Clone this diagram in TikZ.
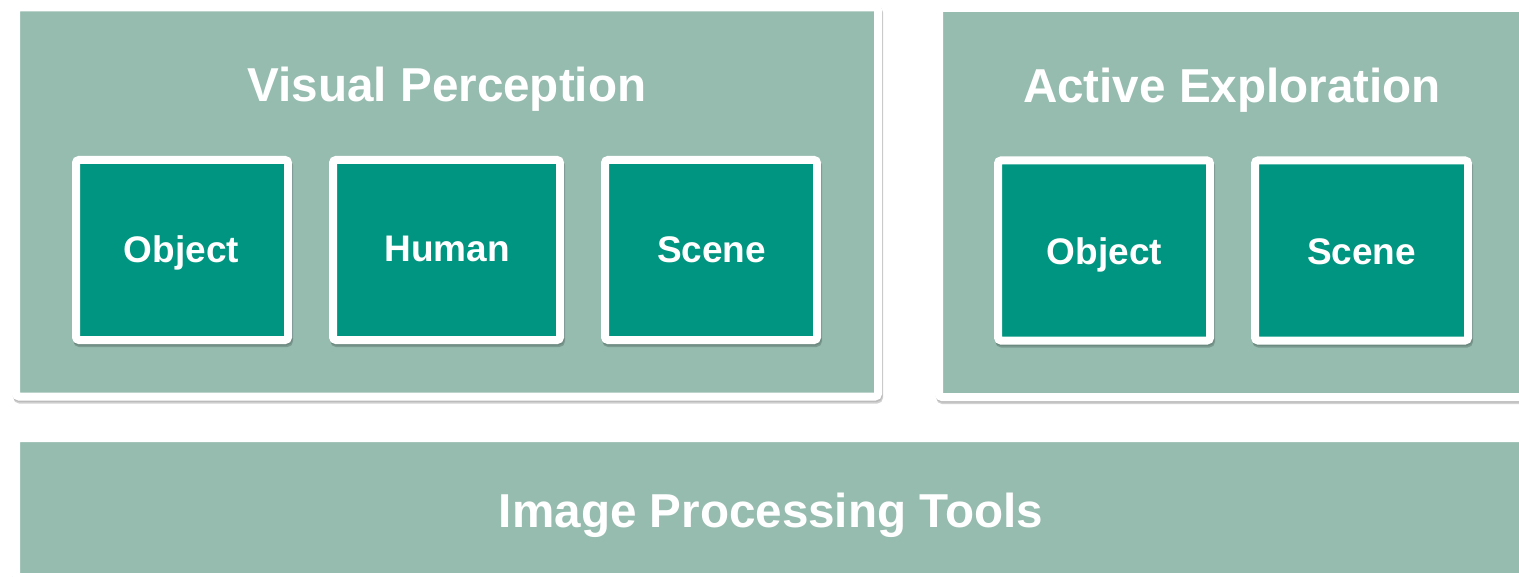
\documentclass[tikz,border=0pt]{standalone}
\usepackage{fontspec}
\setmainfont{Liberation Sans}
\definecolor{sage}{HTML}{96BCB0}
\definecolor{tealbox}{HTML}{009580}
\begin{document}
\begin{tikzpicture}[x=0.5pt,y=-0.5pt,
  shade1/.style={preaction={draw=black,fill=black,opacity=0.18,transform canvas={shift={(0.6pt,-1.6pt)}}}},
  shade2/.style={preaction={draw=black,fill=black,opacity=0.10,transform canvas={shift={(0.3pt,-0.8pt)}}}},
  frame/.style={draw=white,line width=4pt,fill=sage,rounded corners=1.5pt,inner sep=0pt,outer sep=0pt,shade1,shade2},
  subbox/.style={draw=white,line width=4pt,fill=tealbox,rounded corners=1.5pt,inner sep=0pt,outer sep=0pt,
    minimum height=90pt,shade1,shade2},
  sublabel/.style={text=white,font=\fontsize{18.5}{22}\selectfont\bfseries,inner sep=0pt,anchor=base},
  title/.style={text=white,font=\fontsize{23.8}{28}\selectfont\bfseries,inner sep=0pt,anchor=base}]
\useasboundingbox (0,0) rectangle (1519,577);
\fill[white] (0,0) rectangle (1519,577);
\begin{scope}
\clip (0,0) rectangle (1519,577);
% big frames
\node[frame,minimum width=431pt,minimum height=194.5pt] (vp) at (447,202) {};
\node[frame,minimum width=293.5pt,minimum height=194.5pt] (ae) at (1232.5,202.5) {};
\node[frame,minimum width=755pt,minimum height=69.5pt] (ipt) at (771,507.5) {};
% titles
\node[title] (vpt) at (447,102) {Visual Perception};
\node[title] (aet) at (1232,103) {Active Exploration};
\node[title] (iptt) at (771,527) {Image Processing Tools};
% sub boxes
\node[subbox,minimum width=106pt] (vpo) at (182,250) {};
\node[subbox,minimum width=113.5pt] (vph) at (446.5,250) {};
\node[subbox,minimum width=106pt] (vps) at (711,250) {};
\node[subbox,minimum width=106pt] (aeo) at (1104,250.5) {};
\node[subbox,minimum width=106.5pt] (aes) at (1361.5,250.5) {};
% sub labels
\node[sublabel] (vpol) at (181.5,263) {Object};
\node[sublabel] (vphl) at (447,262) {Human};
\node[sublabel] (vpsl) at (711.5,263) {Scene};
\node[sublabel] (aeol) at (1104.5,264) {Object};
\node[sublabel] (aesl) at (1361.5,264) {Scene};
\end{scope}
\end{tikzpicture}
\end{document}
